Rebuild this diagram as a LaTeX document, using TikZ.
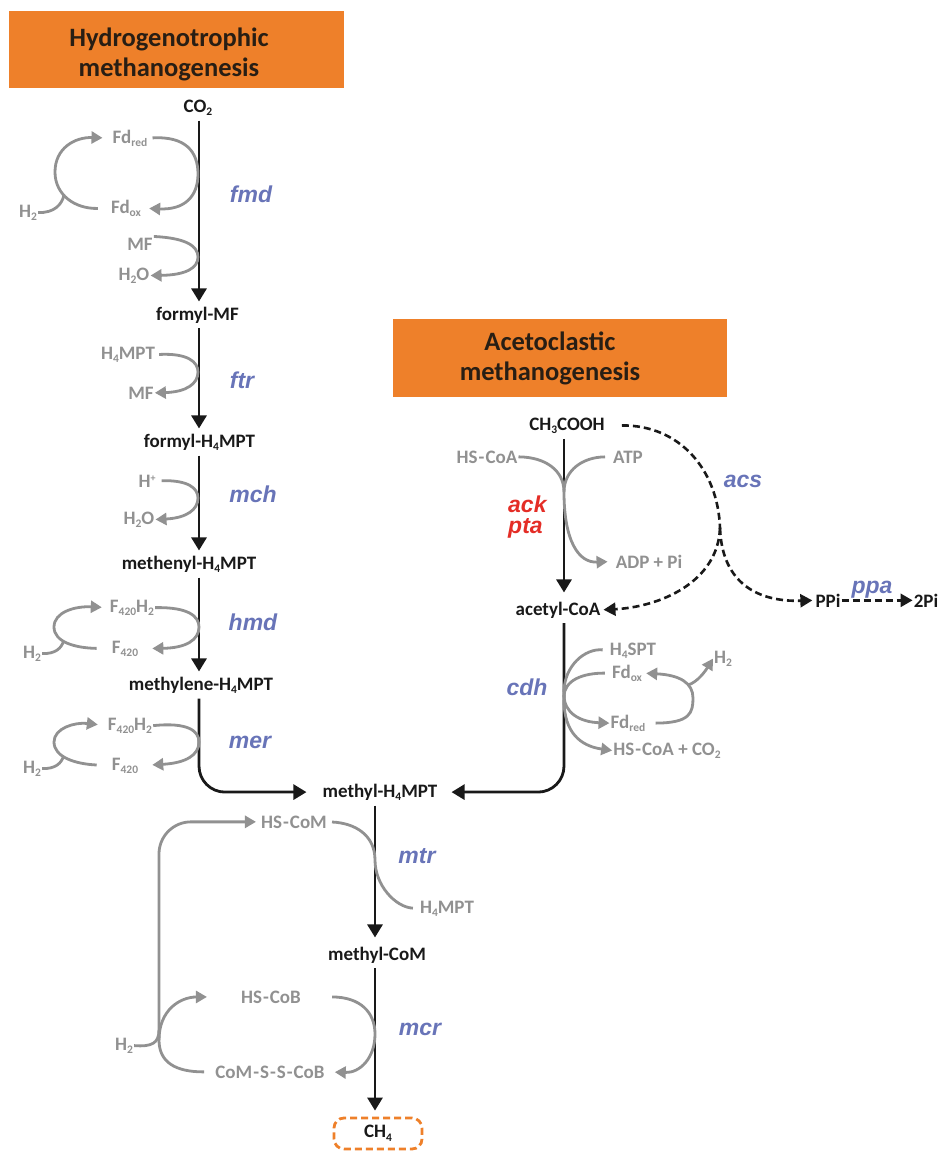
\documentclass[tikz,border=0pt]{standalone}
\usepackage{fontspec}
\setmainfont{Carlito}
\newfontfamily\enzfont{Liberation Sans}
\usetikzlibrary{arrows.meta}
\definecolor{orng}{RGB}{238,128,42}
\definecolor{cgray}{RGB}{145,145,145}
\definecolor{cblue}{RGB}{104,116,184}
\definecolor{cred}{RGB}{228,45,38}
\definecolor{ink}{RGB}{25,25,25}
\definecolor{tink}{RGB}{40,30,20}
\newcommand\mfont{\fontsize{19}{22}\selectfont\bfseries}
\newcommand\efont{\enzfont\fontsize{23}{26}\selectfont\bfseries\itshape}
\newcommand\tfont{\fontsize{26.5}{30}\selectfont\bfseries}
\newcommand\hy{\kern1pt-\kern1pt}
\newcommand\sbs[1]{\raisebox{-3.5pt}{\fontsize{11.5}{12}\selectfont #1}}
\newcommand\sps[1]{\raisebox{6pt}{\fontsize{10}{10}\selectfont #1}}
\tikzset{
  lbl/.style={font=\mfont, text=ink, anchor=base, inner sep=1pt},
  cof/.style={font=\mfont, text=cgray, anchor=base, inner sep=1pt},
  enz/.style={font=\efont, text=cblue, anchor=base, inner sep=0pt},
  redenz/.style={font=\enzfont\fontsize{23}{21}\selectfont\bfseries\itshape, text=cred, inner sep=0pt, align=left},
  ttl/.style={font=\tfont, text=tink, align=center, inner sep=0pt},
  obox/.style={fill=orng, inner sep=0pt, outer sep=0pt},
  barr/.style={draw=ink, line width=2.8pt, shorten <=4pt, shorten >=4pt, -{Triangle[length=13pt,width=15pt]}},
  garr/.style={draw=cgray, line width=2.8pt, -{Triangle[length=11pt,width=12pt]}},
  gline/.style={draw=cgray, line width=2.8pt},
  darr/.style={draw=ink, line width=2.6pt, dash pattern=on 7pt off 4pt, -{Triangle[length=12pt,width=13pt]}},
  dline/.style={draw=ink, line width=2.6pt, dash pattern=on 7pt off 4pt},
  ch4box/.style={draw=orng, line width=2.8pt, dash pattern=on 7pt off 4pt, rounded corners=10pt,
    minimum width=88pt, minimum height=31pt, font=\mfont, text=ink, inner sep=0pt}
}
\begin{document}
\begin{tikzpicture}[x=1pt,y=-1pt]
\useasboundingbox (0,0) rectangle (940,1152);
% ---------- titles
\node[obox, minimum width=335pt, minimum height=77pt] (hbox) at (176.5,49.5) {};
\node[ttl] (htitle) at (169,54) {Hydrogenotrophic\\methanogenesis};
\node[obox, minimum width=334pt, minimum height=78pt] (abox) at (560,358) {};
\node[ttl] (atitle) at (550,358.7) {Acetoclastic\\methanogenesis};
% ---------- axes
\coordinate (hx) at (199,0);
\coordinate (rx) at (564,0);
\coordinate (bx) at (375,0);
% ---------- hydrogenotrophic nodes
\node[lbl] (co2) at (198,112) {CO\sbs{2}};
\node[cof] (fdred) at (130,143) {Fd\sbs{red}};
\node[cof] (fdox) at (126,213) {Fd\sbs{ox}};
\node[cof] (h2a) at (28,217) {H\sbs{2}};
\node[cof] (mf1) at (140,250) {MF};
\node[cof] (h2o1) at (134,280) {H\sbs{2}O};
\node[enz] (fmd) at (251,202) {fmd};
\node[lbl] (fmf) at (197.5,320) {formyl-MF};
\node[cof] (h4a) at (128,359) {H\sbs{4}MPT};
\node[cof] (mf2) at (141,399) {MF};
\node[enz] (ftr) at (242,388) {ftr};
\node[lbl] (fh4) at (199.5,447) {formyl-H\sbs{4}MPT};
\node[cof] (hp) at (147,487) {H\sps{+}};
\node[cof] (h2o2) at (139,524) {H\sbs{2}O};
\node[enz] (mch) at (253,502) {mch};
\node[lbl] (meth) at (189,569) {methenyl-H\sbs{4}MPT};
\node[cof] (f1) at (132,612) {F\sbs{420}H\sbs{2}};
\node[cof] (f2) at (125,653) {F\sbs{420}};
\node[cof] (h2b) at (32,658) {H\sbs{2}};
\node[enz] (hmd) at (253,630) {hmd};
\node[lbl] (mlene) at (201,690) {methylene-H\sbs{4}MPT};
\node[cof] (f3) at (130,730) {F\sbs{420}H\sbs{2}};
\node[cof] (f4) at (125,770) {F\sbs{420}};
\node[cof] (h2c) at (32,773) {H\sbs{2}};
\node[enz] (mer) at (250,748) {mer};
\node[lbl] (mh4) at (380,797) {methyl-H\sbs{4}MPT};
% ---------- acetoclastic nodes
\node[lbl] (ac) at (567,430) {CH\sbs{3}COOH};
\node[cof] (hscoa) at (487,463) {HS\hy CoA};
\node[cof] (atp) at (628,463) {ATP};
\node[redenz, anchor=west] (ackpta) at (508,517) {ack\\pta};
\node[cof] (adp) at (649,568) {ADP + Pi};
\node[enz] (acs) at (743,487) {acs};
\node[lbl] (acoa) at (558,615) {acetyl-CoA};
\node[lbl] (ppi) at (828,607) {PPi};
\node[lbl] (tpi) at (926,607) {2Pi};
\node[enz] (ppa) at (872,593) {ppa};
\node[cof] (h4spt) at (633,655) {H\sbs{4}SPT};
\node[cof] (fdox2) at (627,678) {Fd\sbs{ox}};
\node[cof] (h2d) at (723,663) {H\sbs{2}};
\node[cof] (fdred2) at (628,728) {Fd\sbs{red}};
\node[cof] (hscoa2) at (667,755) {HS\hy CoA + CO\sbs{2}};
\node[enz] (cdh) at (527,695) {cdh};
% ---------- lower nodes
\node[cof] (hscom) at (294,828) {HS\hy CoM};
\node[cof] (h4b) at (447,913) {H\sbs{4}MPT};
\node[enz] (mtr) at (417,863) {mtr};
\node[lbl] (mcom) at (377,960) {methyl-CoM};
\node[cof] (hscob) at (271,1003) {HS\hy CoB};
\node[cof] (cssc) at (270,1078) {CoM\hy S\hy S\hy CoB};
\node[cof] (h2e) at (124,1050) {H\sbs{2}};
\node[enz] (mcr) at (420,1035) {mcr};
\node[ch4box] (ch4) at (378,1133.5) {CH\sbs{4}};
% ---------- main black arrows
\draw[barr] (co2.south -| hx) -- (fmf.north -| hx);
\draw[barr] (fmf.south -| hx) -- (fh4.north -| hx);
\draw[barr] (fh4.south -| hx) -- (meth.north -| hx);
\draw[barr] (meth.south -| hx) -- (mlene.north -| hx);
\draw[barr, rounded corners=26pt, shorten >=15pt] (mlene.south -| hx) |- (mh4.west);
\draw[barr, shorten >=8pt] (ac.south -| rx) -- (acoa.north -| rx);
\draw[barr, rounded corners=26pt, shorten >=13pt] (acoa.south -| rx) |- (mh4.east);
\draw[barr, shorten >=8pt] (mh4.south -| bx) -- (mcom.north -| bx);
\draw[barr, shorten >=6pt] (mcom.south -| bx) -- (ch4.north -| bx);
% ---------- fmd
\draw[garr, shorten <=4pt, shorten >=7pt] (fdred.east) .. controls (186,136) and (198,152) .. (198,174)
   .. controls (198,197) and (184,210) .. (fdox.east);
\draw[garr, shorten <=12pt, shorten >=9pt] (fdox.west) .. controls (75,209) and (55,195) .. (55,172)
   .. controls (55,148) and (75,137) .. (fdred.west);
\draw[gline] (h2a.east) .. controls (55,213) and (62,204) .. (64,195);
\draw[garr] (mf1.north east) .. controls (186,238) and (198,246) .. (198,257)
   .. controls (198,268) and (186,275) .. (h2o1.east);
% ---------- ftr
\draw[garr, shorten <=3pt] (h4a.east) .. controls (188,353) and (198,362) .. (198,372)
   .. controls (198,384) and (186,392) .. (mf2.east);
% ---------- mch
\draw[garr, shorten <=5pt] (hp.east) .. controls (188,480) and (198,488) .. (198,498)
   .. controls (198,510) and (186,518) .. (h2o2.east);
% ---------- hmd
\draw[garr, shorten >=13pt] (f1.east) .. controls (188,607) and (199,616) .. (199,627)
   .. controls (199,640) and (186,648) .. (f2.east);
\draw[garr, shorten <=14pt, shorten >=7pt] (f2.west) .. controls (75,648) and (54,642) .. (54,627)
   .. controls (54,612) and (75,606) .. (f1.west);
\draw[gline] (h2b.east) .. controls (56,654) and (61,648) .. (64,641);
% ---------- mer
\draw[garr, shorten >=13pt] (f3.east) .. controls (188,722) and (199,731) .. (199,742)
   .. controls (199,755) and (186,763) .. (f4.east);
\draw[garr, shorten <=14pt, shorten >=9pt] (f4.west) .. controls (75,764) and (54,757) .. (54,742)
   .. controls (54,728) and (75,722) .. (f3.west);
\draw[gline] (h2c.east) .. controls (56,769) and (61,763) .. (64,756);
% ---------- ack / pta
\draw[gline] (hscoa.east) .. controls (545,457) and (564,470) .. (564,492);
\draw[gline, shorten <=7pt] (atp.west) .. controls (583,457) and (564,470) .. (564,492);
\draw[garr, shorten >=7pt] (564,492) .. controls (564,540) and (578,563) .. (adp.west);
% ---------- acs / ppa
\draw[dline, shorten <=16pt] (ac.east) .. controls (680,425) and (718,470) .. (720,528) coordinate (split);
\draw[darr, shorten >=2pt] (split) .. controls (718,582) and (660,607) .. (acoa.east);
\draw[darr, shorten >=2pt] (split) .. controls (722,585) and (760,602) .. (ppi.west);
\draw[darr] (ppi.east) -- (tpi.west);
% ---------- cdh
\draw[gline, shorten <=6pt] (h4spt.west) .. controls (585,648) and (564,666) .. (564,692);
\draw[gline, shorten <=6pt] (fdox2.west) .. controls (583,673) and (564,680) .. (564,697);
\draw[garr] (564,695) .. controls (564,713) and (580,722) .. (fdred2.west);
\draw[garr] (564,700) .. controls (564,732) and (580,746) .. (hscoa2.west);
\draw[garr, shorten <=9pt, shorten >=3pt] (fdred2.east) .. controls (690,723) and (693,713) .. (693,698)
   .. controls (693,683) and (680,675) .. (fdox2.east);
\draw[garr] (688,685) .. controls (698,682) and (706,670) .. (h2d.west);
% ---------- mtr
\draw[gline, shorten <=4pt, shorten >=6pt] (hscom.east) .. controls (355,823) and (375,835) .. (375,860)
   .. controls (375,885) and (395,907) .. (h4b.west);
% ---------- mcr
\draw[garr, shorten <=30pt, shorten >=9pt] (hscob.east) .. controls (360,997) and (375,1012) .. (375,1034)
   .. controls (375,1058) and (360,1073) .. (cssc.east);
\draw[garr, shorten <=10pt, shorten >=33pt] (cssc.west) .. controls (175,1072) and (159,1062) .. (159,1040)
   .. controls (159,1010) and (180,997) .. (hscob.west);
\coordinate (hub) at (159,1040);
\draw[garr, rounded corners=32pt, shorten >=4pt] (hub) |- (hscom.west);
\draw[gline] (h2e.east) .. controls (152,1047) and (159,1043) .. (159,1030);
\end{tikzpicture}
\end{document}
